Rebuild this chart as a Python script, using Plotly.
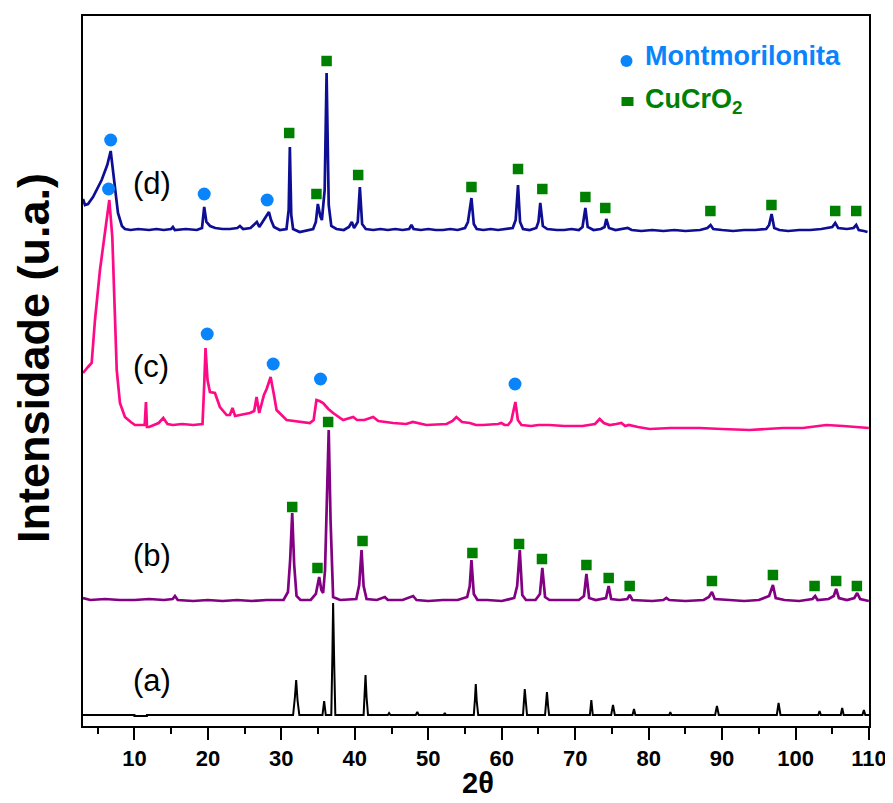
import plotly.graph_objects as go

# ---------------- data (2theta, intensity above each pattern's own baseline) ----------------
pattern_a = [(3.0, 0), (10.0, 0), (10.0, -1), (11.7, -1), (11.7, 0), (31.6, 0), (31.85, 18), (32.02, 35), (32.2, 15),
             (32.45, 0), (35.6, 0), (35.83, 14), (36.05, 0), (36.8, 0), (36.95, 60), (37.05, 112), (37.2, 50),
             (37.35, 0), (41.2, 0), (41.35, 20), (41.46, 40), (41.6, 18), (41.8, 0), (44.5, 0), (44.67, 2),
             (44.85, 0), (48.3, 0), (48.51, 3), (48.7, 0), (52.1, 0), (52.25, 2), (52.4, 0), (56.2, 0),
             (56.35, 15), (56.47, 31), (56.6, 14), (56.8, 0), (62.9, 0), (63.0, 12), (63.14, 26), (63.3, 12),
             (63.45, 0), (65.9, 0), (66.0, 10), (66.16, 23), (66.3, 10), (66.45, 0), (72.0, 0), (72.2, 15),
             (72.4, 0), (74.9, 0), (75.15, 10), (75.4, 0), (77.8, 0), (78.01, 6), (78.2, 0), (82.8, 0),
             (82.95, 3), (83.1, 0), (89.05, 0), (89.3, 9), (89.55, 0), (97.45, 0), (97.69, 12), (97.95, 0),
             (103.1, 0), (103.27, 4), (103.45, 0), (106.15, 0), (106.35, 7), (106.55, 0), (109.1, 0),
             (109.3, 5), (109.5, 0), (110.0, 0)]

pattern_b = [(3.0, 2), (4.0, 0), (6.0, 1), (8.0, 0), (10.0, 0), (12.0, 1), (14.0, 0), (15.2, 1), (15.52, 4),
             (15.9, 0), (18.0, -1), (20.0, 0), (22.0, -1), (24.0, 0), (26.0, -1), (28.0, 0), (30.3, 0),
             (30.9, 8), (31.2, 40), (31.48, 87), (31.75, 35), (32.07, 4), (32.6, 0), (34.0, 0), (34.7, 6),
             (35.15, 23), (35.45, 10), (35.69, 7), (35.95, 30), (36.2, 100), (36.45, 170), (36.7, 80),
             (37.05, 3), (38.0, 0), (40.2, 1), (40.6, 15), (40.92, 50), (41.2, 14), (41.6, 1), (43.0, 0),
             (44.09, 3), (44.5, 0), (46.5, 0), (47.94, 4), (48.4, 0), (50.0, -1), (52.0, 0), (54.0, 0),
             (55.3, 3), (55.65, 14), (55.88, 40), (56.2, 6), (56.7, 0), (58.0, 0), (60.0, -1), (61.7, 2),
             (62.1, 14), (62.46, 50), (62.8, 5), (63.3, 0), (64.6, 0), (65.2, 6), (65.53, 32), (65.9, 3),
             (66.5, 0), (68.5, 0), (70.5, 0), (71.2, 4), (71.53, 26), (71.9, 2), (72.8, 0), (74.2, 2),
             (74.56, 14), (74.9, 1), (76.0, 0), (77.1, 1), (77.42, 5), (77.8, 0), (80.5, -1), (82.0, 0),
             (82.41, 2), (82.8, 0), (85.0, -1), (87.5, 0), (88.2, 3), (88.62, 8), (89.0, 1), (91.0, 0),
             (93.0, -1), (95.0, 0), (96.4, 4), (96.92, 15), (97.3, 2), (98.5, 0), (100.5, -1), (102.3, 1),
             (102.67, 4), (103.0, 0), (104.5, 1), (105.2, 4), (105.53, 11), (105.9, 2), (107.0, 0),
             (108.0, 2), (108.39, 7), (108.8, 1), (109.98, -1)]

pattern_c = [(3.0, 52), (3.4, 55), (3.68, 58), (4.18, 62), (4.63, 105), (5.31, 155), (5.99, 195), (6.44, 222),
             (6.58, 225), (6.99, 188), (7.26, 122), (7.59, 55), (8.03, 22), (8.71, 8), (9.5, 3), (10.07, 0),
             (10.76, 0), (11.4, 0), (11.57, 23), (11.71, -2), (12.0, -2), (13.3, 2), (13.93, 7), (14.5, 1),
             (15.24, 0), (16.5, 1), (18.0, 0), (19.27, 1), (19.5, 40), (19.68, 77), (19.95, 45), (20.28, 33),
             (20.96, 32), (21.64, 18), (22.55, 10), (23.0, 10), (23.35, 17), (23.7, 9), (24.36, 10),
             (25.72, 12), (26.3, 14), (26.63, 28), (26.99, 12), (27.63, 30), (28.0, 36), (28.54, 48),
             (29.0, 30), (29.35, 15), (30.71, 5), (32.5, 3), (33.88, 2), (34.4, 5), (34.78, 25), (35.2, 24),
             (35.69, 22), (36.4, 16), (37.05, 12), (38.41, 5), (39.3, 7), (39.78, 8), (40.3, 5), (41.3, 5),
             (42.5, 8), (43.2, 4), (45.22, 2), (47.0, 1), (47.9, 3), (49.75, 0), (52.5, 1), (53.3, 4),
             (53.83, 8), (54.6, 3), (55.65, 2), (56.5, 0), (57.46, 0), (59.5, 1), (59.95, 2), (60.4, 0),
             (60.86, 0), (61.3, 4), (61.86, 23), (62.2, 5), (62.69, 0), (64.0, -1), (65.0, 0), (66.5, 0),
             (68.5, -1), (71.0, -1), (72.7, 1), (73.34, 6), (73.9, 2), (74.7, 0), (75.6, 1), (76.29, 2),
             (76.8, -1), (77.3, 0), (78.55, -2), (80.14, -4), (83.0, -3), (86.94, -3), (90.0, -4),
             (93.75, -5), (96.0, -4), (98.28, -3), (101.0, -3), (103.3, -1), (104.18, 0), (106.5, -1),
             (108.0, -2), (109.98, -3)]

pattern_d = [(3.0, 31), (3.27, 25), (3.68, 26), (4.36, 33), (5.54, 50), (6.3, 65), (6.77, 79), (7.0, 65),
             (7.35, 40), (7.76, 17), (8.3, 4), (8.71, 1), (9.5, 0), (10.5, 1), (12.0, 0), (13.0, 1), (14.0, 0),
             (15.0, 1), (15.24, 3), (15.5, 0), (17.0, 1), (18.5, 0), (19.2, 2), (19.5, 23), (19.8, 8),
             (20.3, 4), (21.0, 2), (22.0, 1), (23.0, 1), (24.0, 2), (24.36, 4), (24.8, 1), (25.8, 2),
             (26.67, 8), (27.0, 3), (27.63, 10), (28.07, 16), (28.31, 18), (28.6, 10), (29.0, 3), (29.8, 0),
             (30.7, 1), (31.0, 20), (31.16, 83), (31.35, 15), (31.6, 1), (32.5, -2), (33.5, 0), (34.33, 1),
             (34.7, 8), (34.97, 26), (35.3, 14), (35.52, 10), (35.9, 40), (36.16, 157), (36.45, 25),
             (36.8, 4), (37.5, 1), (38.5, 0), (39.2, 3), (39.6, 8), (39.9, 2), (40.4, 8), (40.69, 43),
             (41.0, 6), (41.5, 1), (42.5, 0), (43.5, 1), (44.5, 0), (45.5, 1), (46.5, 0), (47.4, 1),
             (47.71, 5), (48.0, 1), (49.0, 0), (50.0, 1), (51.0, 0), (52.0, 0), (53.0, 1), (54.0, 0),
             (55.0, 2), (55.4, 8), (55.88, 32), (56.2, 6), (56.6, 1), (57.5, 0), (58.5, 1), (59.5, 0),
             (60.5, 1), (61.5, 2), (61.9, 10), (62.22, 45), (62.5, 8), (62.9, 1), (63.8, 0), (64.7, 2),
             (65.0, 8), (65.25, 27), (65.6, 4), (66.2, 1), (67.5, 0), (68.5, 0), (69.5, 1), (70.5, 0),
             (71.0, 3), (71.39, 22), (71.7, 3), (72.5, 0), (73.5, 1), (74.0, 3), (74.24, 11), (74.6, 2),
             (75.5, 0), (76.5, 1), (77.15, 2), (77.7, 0), (79.0, -1), (80.5, 0), (82.0, -1), (83.5, 0),
             (85.0, -1), (87.0, 0), (88.0, 2), (88.43, 5), (88.8, 1), (90.0, 0), (91.5, -1), (93.0, 0),
             (94.5, 0), (96.0, 1), (96.4, 5), (96.74, 16), (97.1, 2), (97.8, 0), (99.0, -1), (100.5, 0),
             (102.0, 0), (103.5, 1), (104.5, 2), (105.0, 3), (105.4, 7), (105.8, 2), (107.0, 1), (107.9, 2),
             (108.26, 5), (108.6, 0), (109.3, -1), (109.8, -2)]

# vertical offsets of the stacked patterns
offset_a = 11
offset_b = 126
offset_c = 301
offset_d = 496

# phase markers (2theta, stacked height)
montmorilonita_tt = [6.77, 19.50, 28.07, 6.48, 19.91, 28.89, 35.33, 61.81]
montmorilonita_y = [586, 532, 526, 537, 392, 362, 347, 342]
cucro2_tt = [31.07, 36.16, 34.78, 40.46, 55.88, 62.22, 65.53, 71.39, 74.10, 88.41, 96.72, 105.40, 108.26,
             31.48, 34.92, 36.37, 41.05, 56.01, 62.36, 65.48, 71.53, 74.56, 77.42, 88.62, 96.92, 102.59,
             105.53, 108.35]
cucro2_y = [593, 665, 532, 551, 539, 557, 537, 529, 518, 515, 521, 515, 515,
            219, 158, 304, 185, 173, 182, 167, 161, 148, 140, 145, 151, 140, 145, 140]

pattern_labels = ["(a)", "(b)", "(c)", "(d)"]
x_ticks = [10, 20, 30, 40, 50, 60, 70, 80, 90, 100, 110]
x_minor = [5, 15, 25, 35, 45, 55, 65, 75, 85, 95, 105]

FONT = "Liberation Sans, Arial, sans-serif"
NAVY = "#0E0E94"
PINK = "#FF0A86"
PURPLE = "#820082"
BLUE = "#0A84FA"
GREEN = "#008000"

# The page body has an 8 px margin, so the figure starts at (8, 8) in the 893x803 window.
PAGE = 8
# plot-area geometry in window pixels
L, R, T, B = 83, 869, 16, 726
W, H = R - L, B - T


def px(xp):
    return (xp - L) / W


def py(yp):
    return (B - yp) / H


fig = go.Figure()

series = [(pattern_a, offset_a, "black", 2.0), (pattern_b, offset_b, PURPLE, 2.7),
          (pattern_c, offset_c, PINK, 2.7), (pattern_d, offset_d, NAVY, 2.7)]
for pts, off, col, w in series:
    fig.add_trace(go.Scatter(x=[p[0] for p in pts], y=[p[1] + off for p in pts], mode="lines",
                             line=dict(color=col, width=w), showlegend=False, hoverinfo="skip"))

fig.add_trace(go.Scatter(x=cucro2_tt, y=cucro2_y, mode="markers",
                         marker=dict(symbol="square", size=10.5, color=GREEN, line=dict(width=0)),
                         showlegend=False, hoverinfo="skip"))
fig.add_trace(go.Scatter(x=montmorilonita_tt, y=montmorilonita_y, mode="markers",
                         marker=dict(symbol="circle", size=13, color=BLUE, line=dict(width=0)),
                         showlegend=False, hoverinfo="skip"))

# pattern labels
label_yval = [offset_a + 35, offset_b + 45, offset_c + 59, offset_d + 47]
for txt, yv in zip(pattern_labels, label_yval):
    fig.add_annotation(x=px(131), y=yv, xref="paper", yref="y", text=txt, showarrow=False,
                       font=dict(family=FONT, size=31, color="black"), xanchor="left", yanchor="middle")

# legend (drawn manually)
fig.add_shape(type="circle", xref="paper", yref="paper",
              x0=px(620.5), x1=px(632.5), y0=py(67), y1=py(55), fillcolor=BLUE, line=dict(width=0))
fig.add_shape(type="rect", xref="paper", yref="paper",
              x0=px(621.5), x1=px(633.5), y0=py(106), y1=py(97), fillcolor=GREEN, line=dict(width=0))
fig.add_annotation(xref="paper", yref="paper", x=px(643), y=py(56),
                   text="<b>Montmorilonita</b>", showarrow=False, xanchor="left", yanchor="middle",
                   font=dict(family=FONT, size=27, color=BLUE))
fig.add_annotation(xref="paper", yref="paper", x=px(643), y=py(101),
                   text="<b>CuCrO<sub>2</sub></b>", showarrow=False, xanchor="left", yanchor="middle",
                   font=dict(family=FONT, size=27, color=GREEN))

# axis titles
fig.add_annotation(xref="paper", yref="paper", x=px(33), y=py(358), text="<b>Intensidade (u.a.)</b>",
                   textangle=-90, showarrow=False, xanchor="center", yanchor="middle",
                   font=dict(family=FONT, size=45, color="black"))
fig.add_annotation(xref="paper", yref="paper", x=px(478), y=py(783), text="<b>2θ</b>",
                   showarrow=False, xanchor="center", yanchor="middle",
                   font=dict(family=FONT, size=29, color="black"))

fig.update_layout(
    width=893 - PAGE, height=803 - PAGE,
    margin=dict(l=L - PAGE, r=893 - R, t=T - PAGE, b=803 - B, autoexpand=False),
    paper_bgcolor="white", plot_bgcolor="white",
    xaxis=dict(range=[3, 110], tickmode="array", tickvals=x_ticks,
               ticktext=["<b>%d</b>" % t for t in x_ticks],
               ticks="outside", ticklen=12, tickwidth=2, tickcolor="black",
               minor=dict(tickvals=x_minor, ticks="outside", ticklen=6, tickwidth=2, tickcolor="black"),
               showline=True, linecolor="black", linewidth=2, mirror=True, showgrid=False, zeroline=False,
               automargin=False,
               tickfont=dict(family="Liberation Sans Narrow, Arial Narrow, " + FONT, size=22, color="black")),
    yaxis=dict(range=[0, 710], showticklabels=False, ticks="", showline=True, linecolor="black",
               linewidth=2, mirror=True, showgrid=False, zeroline=False, automargin=False),
)

fig.write_html("out.html")
